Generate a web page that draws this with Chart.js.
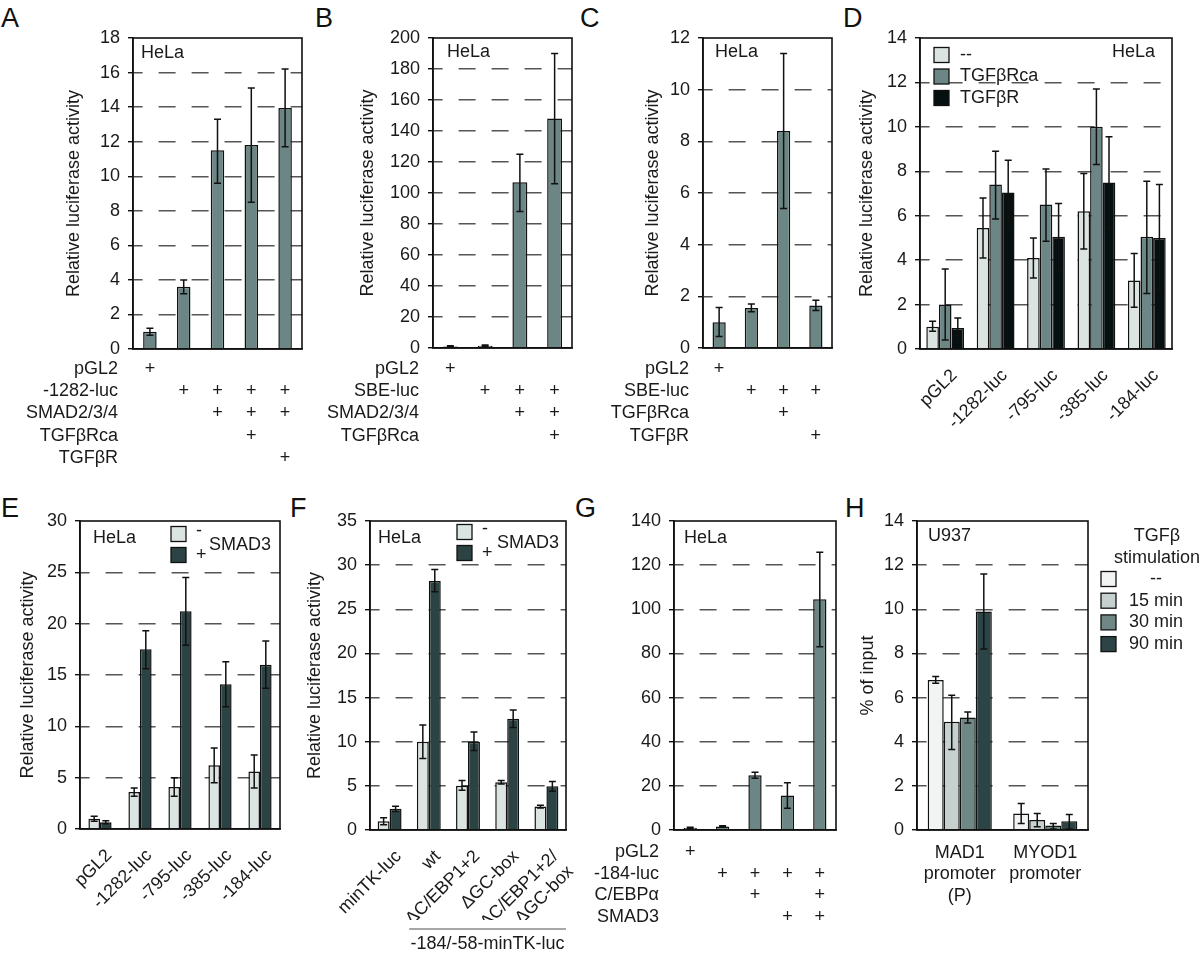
<!DOCTYPE html>
<html>
<head>
<meta charset="utf-8">
<script src="https://cdn.jsdelivr.net/npm/chart.js@4.4.0/dist/chart.umd.min.js"></script>
<style>
  body { margin: 0; background: #fff; width: 1200px; height: 955px; position: relative; overflow: hidden;
         font-family: 'Liberation Sans', Arial, sans-serif; }
  canvas { position: absolute; }
  .letter { position: absolute; font-size: 27px; color: #111; line-height: 1; }
</style>
</head>
<body>
<div class="letter" style="left:1px;top:5px">A</div>
<div class="letter" style="left:315px;top:5px">B</div>
<div class="letter" style="left:580px;top:5px">C</div>
<div class="letter" style="left:843px;top:5px">D</div>
<div class="letter" style="left:1px;top:495px">E</div>
<div class="letter" style="left:290px;top:495px">F</div>
<div class="letter" style="left:575px;top:495px">G</div>
<div class="letter" style="left:845px;top:495px">H</div>

<canvas id="chartA"></canvas>
<canvas id="chartB"></canvas>
<canvas id="chartC"></canvas>
<canvas id="chartD"></canvas>
<canvas id="chartE"></canvas>
<canvas id="chartF"></canvas>
<canvas id="chartG"></canvas>
<canvas id="chartH"></canvas>

<script>
  // ---- data ----
  const aValues = [1.0, 3.6, 11.5, 11.8, 13.95];
  const aErrLow = [0.8, 3.2, 9.6, 8.5, 11.7];
  const aErrHigh = [1.2, 4.0, 13.3, 15.1, 16.2];
  const aRowNames = ['pGL2', '-1282-luc', 'SMAD2/3/4', 'TGFβRca', 'TGFβR'];
  const aRows = [
    ['+', '', '', '', ''],
    ['', '+', '+', '+', '+'],
    ['', '', '+', '+', '+'],
    ['', '', '', '+', ''],
    ['', '', '', '', '+']
  ];

  const bValues = [1.0, 1.5, 107, 148];
  const bErrLow = [0.5, 1.0, 88, 106];
  const bErrHigh = [1.5, 2.0, 125, 190];
  const bRowNames = ['pGL2', 'SBE-luc', 'SMAD2/3/4', 'TGFβRca'];
  const bRows = [
    ['+', '', '', ''],
    ['', '+', '+', '+'],
    ['', '', '+', '+'],
    ['', '', '', '+']
  ];

  const cValues = [1.0, 1.55, 8.4, 1.65];
  const cErrLow = [0.45, 1.4, 5.4, 1.45];
  const cErrHigh = [1.57, 1.7, 11.4, 1.85];
  const cRowNames = ['pGL2', 'SBE-luc', 'TGFβRca', 'TGFβR'];
  const cRows = [
    ['+', '', '', ''],
    ['', '+', '+', '+'],
    ['', '', '+', ''],
    ['', '', '', '+']
  ];

  const promoterLabels = ['pGL2', '-1282-luc', '-795-luc', '-385-luc', '-184-luc'];

  const dNone = [1.0, 5.45, 4.1, 6.2, 3.08];
  const dNoneLow = [0.8, 4.1, 3.2, 4.5, 1.88];
  const dNoneHigh = [1.25, 6.8, 5.0, 7.9, 4.3];
  const dRca = [2.0, 7.4, 6.5, 10.0, 5.05];
  const dRcaLow = [0.4, 5.85, 4.85, 8.3, 2.5];
  const dRcaHigh = [3.6, 8.9, 8.1, 11.7, 7.55];
  const dR = [0.95, 7.05, 5.05, 7.5, 5.0];
  const dRLow = [0.6, 5.6, 3.55, 5.45, 2.6];
  const dRHigh = [1.4, 8.5, 6.55, 9.55, 7.4];

  const eMinus = [1.0, 3.6, 4.1, 6.2, 5.6];
  const eMinusLow = [0.75, 3.2, 3.2, 4.5, 4.0];
  const eMinusHigh = [1.25, 4.0, 5.0, 7.9, 7.2];
  const ePlus = [0.65, 17.5, 21.2, 14.1, 16.0];
  const ePlusLow = [0.5, 15.6, 17.9, 11.9, 13.7];
  const ePlusHigh = [0.8, 19.3, 24.5, 16.3, 18.3];

  const fLabels = ['minTK-luc', 'wt', 'ΔC/EBP1+2', 'ΔGC-box', ['ΔC/EBP1+2/', 'ΔGC-box']];
  const fMinus = [1.0, 10.0, 5.0, 5.4, 2.65];
  const fMinusLow = [0.6, 8.1, 4.5, 5.2, 2.5];
  const fMinusHigh = [1.4, 11.9, 5.6, 5.6, 2.8];
  const fPlus = [2.4, 28.2, 10.0, 12.6, 4.95];
  const fPlusLow = [2.1, 27.0, 9.0, 11.6, 4.4];
  const fPlusHigh = [2.7, 29.5, 11.1, 13.6, 5.5];

  const gValues = [1.0, 1.6, 24.8, 15.6, 104.5];
  const gErrLow = [0.7, 1.3, 23.5, 9.8, 83];
  const gErrHigh = [1.3, 1.9, 26.2, 21.4, 125.8];
  const gRowNames = ['pGL2', '-184-luc', 'C/EBPα', 'SMAD3'];
  const gRows = [
    ['+', '', '', '', ''],
    ['', '+', '+', '+', '+'],
    ['', '', '+', '', '+'],
    ['', '', '', '+', '+']
  ];

  const hLabels = [['MAD1', 'promoter', '(P)'], ['MYOD1', 'promoter']];
  const hNone = [6.8, 0.75];
  const hNoneLow = [6.65, 0.3];
  const hNoneHigh = [6.95, 1.2];
  const h15 = [4.9, 0.45];
  const h15Low = [3.65, 0.15];
  const h15High = [6.1, 0.75];
  const h30 = [5.1, 0.2];
  const h30Low = [4.85, 0.05];
  const h30High = [5.35, 0.3];
  const h90 = [9.9, 0.4];
  const h90Low = [8.2, 0.05];
  const h90High = [11.6, 0.7];

  // ---- colours ----
  const greyTeal = '#6b8684';
  const lightGrey = '#dce4e2';
  const darkTeal = '#2c4344';
  const nearBlack = '#071010';

  const fontFam = "'Liberation Sans', Arial, sans-serif";
  Chart.defaults.font.family = fontFam;
  Chart.defaults.font.size = 18;
  Chart.defaults.color = '#1a1a1a';

  // error bars from dataset.errLow / errHigh
  const errorBars = {
    id: 'errorBars',
    afterDatasetsDraw(chart) {
      const ctx = chart.ctx;
      const y = chart.scales.y;
      chart.data.datasets.forEach((ds, di) => {
        if (!ds.errLow) return;
        chart.getDatasetMeta(di).data.forEach((bar, i) => {
          const lo = y.getPixelForValue(ds.errLow[i]);
          const hi = y.getPixelForValue(ds.errHigh[i]);
          ctx.save();
          ctx.strokeStyle = '#111';
          ctx.lineWidth = 1.5;
          ctx.beginPath();
          ctx.moveTo(bar.x, lo); ctx.lineTo(bar.x, hi);
          ctx.moveTo(bar.x - 3.5, lo); ctx.lineTo(bar.x + 3.5, lo);
          ctx.moveTo(bar.x - 3.5, hi); ctx.lineTo(bar.x + 3.5, hi);
          ctx.stroke();
          ctx.restore();
        });
      });
    }
  };

  // box round the plot area
  const frameBox = {
    id: 'frameBox',
    afterDatasetsDraw(chart) {
      const {ctx, chartArea: a} = chart;
      ctx.save();
      ctx.strokeStyle = '#111';
      ctx.lineWidth = 1.6;
      ctx.strokeRect(a.left, a.top, a.right - a.left, a.bottom - a.top);
      ctx.restore();
    }
  };

  // texts, legends, +/- tables and brackets (page coordinates)
  const extras = {
    id: 'extras',
    afterDraw(chart, args, opts) {
      const f = opts.frame;
      if (!f) return;
      const ctx = chart.ctx;
      const xs = chart.scales.x;
      ctx.save();
      ctx.translate(-f.x, -f.y);
      ctx.fillStyle = '#1a1a1a';
      ctx.font = '18px ' + fontFam;
      ctx.textBaseline = 'middle';

      (opts.texts || []).forEach(t => {
        ctx.textAlign = t.align || 'left';
        ctx.fillText(t.t, t.x, t.y);
      });

      if (opts.table) {
        const tb = opts.table;
        tb.rows.forEach((row, r) => {
          const y = tb.y0 + r * tb.dy;
          ctx.textAlign = 'right';
          ctx.fillText(tb.names[r], tb.nameRight, y);
          ctx.textAlign = 'center';
          row.forEach((m, i) => {
            if (m) ctx.fillText(m, xs.getPixelForValue(i) + f.x, y);
          });
        });
      }

      if (opts.legend) {
        const lg = opts.legend;
        chart.data.datasets.forEach((ds, i) => {
          const cy = lg.y + i * lg.dy;
          ctx.fillStyle = ds.backgroundColor;
          ctx.fillRect(lg.x, cy - lg.size / 2, lg.size, lg.size);
          ctx.strokeStyle = '#111';
          ctx.lineWidth = 1.3;
          ctx.strokeRect(lg.x, cy - lg.size / 2, lg.size, lg.size);
          ctx.fillStyle = '#1a1a1a';
          ctx.textAlign = lg.align || 'left';
          ctx.fillText(ds.label, lg.textX, cy + (lg.textDy ? lg.textDy[i] : 0));
        });
      }

      if (opts.bracket) {
        const br = opts.bracket;
        const half = (xs.getPixelForValue(1) - xs.getPixelForValue(0)) / 2;
        const x1 = xs.getPixelForValue(br.from) - half + f.x;
        const x2 = xs.getPixelForValue(br.to) + half + f.x;
        ctx.strokeStyle = '#8a8a8a';
        ctx.lineWidth = 1.5;
        ctx.beginPath();
        ctx.moveTo(x1, br.y); ctx.lineTo(x2, br.y);
        ctx.stroke();
        ctx.textAlign = 'center';
        ctx.fillText(br.text, (x1 + x2) / 2, br.y + 15);
      }
      ctx.restore();
    }
  };

  function bars(label, values, low, high, color) {
    return {
      label: label,
      data: values,
      errLow: low,
      errHigh: high,
      backgroundColor: color,
      borderColor: '#111',
      borderWidth: 1.5
    };
  }

  function panelChart(id, frame, plot, cfg) {
    const canvas = document.getElementById(id);
    canvas.width = frame.w;
    canvas.height = frame.h;
    canvas.style.left = frame.x + 'px';
    canvas.style.top = frame.y + 'px';

    const padLeft = cfg.yTitle ? cfg.titleX - frame.x - 10.8 : 0;
    const xHeight = cfg.xHeight || 0;
    const max = cfg.max;

    return new Chart(canvas, {
      type: 'bar',
      data: { labels: cfg.labels, datasets: cfg.datasets },
      options: {
        responsive: false,
        animation: false,
        datasets: { bar: { barPercentage: cfg.barPct, categoryPercentage: cfg.catPct } },
        layout: {
          padding: {
            left: padLeft,
            top: plot.t - frame.y,
            right: frame.x + frame.w - plot.r,
            bottom: frame.y + frame.h - plot.b - xHeight
          }
        },
        plugins: {
          legend: { display: false },
          tooltip: { enabled: false },
          extras: Object.assign({ frame: frame }, cfg.extras)
        },
        scales: {
          x: {
            grid: { display: false },
            border: { display: true, color: '#111', width: 1.6 },
            ticks: Object.assign({ display: !!cfg.xTicks, autoSkip: false, padding: 4, color: '#1a1a1a' }, cfg.xTicks || {}),
            afterFit: s => { s.height = xHeight; }
          },
          y: {
            min: 0,
            max: max,
            ticks: { stepSize: cfg.step, padding: 8, color: '#1a1a1a' },
            grid: {
              color: c => (c.tick.value === 0 || c.tick.value === max) ? 'rgba(0,0,0,0)' : '#555',
              lineWidth: 1.4,
              tickLength: 5,
              tickColor: '#111',
              tickWidth: 1.4
            },
            border: { display: true, color: '#111', width: 1.6, dash: [17, 16], dashOffset: 8 },
            title: cfg.yTitle ? { display: true, text: cfg.yTitle, padding: 0, color: '#1a1a1a', font: { size: 18 } } : { display: false },
            afterFit: s => { s.width = plot.l - frame.x - padLeft; }
          }
        }
      },
      plugins: [errorBars, frameBox, extras]
    });
  }

  const lucTitle = 'Relative luciferase activity';

  panelChart('chartA', { x: 0, y: 0, w: 305, h: 470 }, { l: 133, t: 38, r: 302, b: 349 }, {
    labels: ['1', '2', '3', '4', '5'],
    datasets: [bars('A', aValues, aErrLow, aErrHigh, greyTeal)],
    max: 18, step: 2, yTitle: lucTitle, titleX: 74, barPct: 0.4, catPct: 1,
    extras: {
      texts: [{ t: 'HeLa', x: 141, y: 53 }],
      table: { names: aRowNames, rows: aRows, y0: 369, dy: 22.2, nameRight: 118 }
    }
  });

  panelChart('chartB', { x: 305, y: 0, w: 285, h: 470 }, { l: 433, t: 38, r: 572, b: 348 }, {
    labels: ['1', '2', '3', '4'],
    datasets: [bars('B', bValues, bErrLow, bErrHigh, greyTeal)],
    max: 200, step: 20, yTitle: lucTitle, titleX: 368, barPct: 0.43, catPct: 1,
    extras: {
      texts: [{ t: 'HeLa', x: 447, y: 52 }],
      table: { names: bRowNames, rows: bRows, y0: 369, dy: 22.2, nameRight: 419 }
    }
  });

  panelChart('chartC', { x: 590, y: 0, w: 250, h: 470 }, { l: 703, t: 38, r: 832, b: 348 }, {
    labels: ['1', '2', '3', '4'],
    datasets: [bars('C', cValues, cErrLow, cErrHigh, greyTeal)],
    max: 12, step: 2, yTitle: lucTitle, titleX: 653, barPct: 0.41, catPct: 1,
    extras: {
      texts: [{ t: 'HeLa', x: 715, y: 52 }],
      table: { names: cRowNames, rows: cRows, y0: 369, dy: 22.2, nameRight: 689 }
    }
  });

  panelChart('chartD', { x: 840, y: 0, w: 360, h: 470 }, { l: 920, t: 38, r: 1172, b: 349 }, {
    labels: promoterLabels,
    datasets: [
      bars('--', dNone, dNoneLow, dNoneHigh, lightGrey),
      bars('TGFβRca', dRca, dRcaLow, dRcaHigh, greyTeal),
      bars('TGFβR', dR, dRLow, dRHigh, nearBlack)
    ],
    max: 14, step: 2, yTitle: lucTitle, titleX: 867, barPct: 1, catPct: 0.75,
    xHeight: 110, xTicks: { minRotation: 45, maxRotation: 45, padding: 8, labelOffset: 9 },
    extras: {
      texts: [{ t: 'HeLa', x: 1112, y: 52 }],
      legend: { x: 934, y: 55, dy: 21.5, size: 15, textX: 960 }
    }
  });

  panelChart('chartE', { x: 0, y: 470, w: 290, h: 485 }, { l: 80, t: 521, r: 280, b: 829 }, {
    labels: promoterLabels,
    datasets: [
      bars('-', eMinus, eMinusLow, eMinusHigh, lightGrey),
      bars('+', ePlus, ePlusLow, ePlusHigh, darkTeal)
    ],
    max: 30, step: 5, yTitle: lucTitle, titleX: 28, barPct: 1, catPct: 0.58,
    xHeight: 110, xTicks: { minRotation: 45, maxRotation: 45, padding: 8, labelOffset: 9 },
    extras: {
      texts: [{ t: 'HeLa', x: 93, y: 538 }, { t: 'SMAD3', x: 209, y: 545 }],
      legend: { x: 171, y: 534, dy: 21, size: 15, textX: 196, textDy: [-3, 0] }
    }
  });

  panelChart('chartF', { x: 290, y: 470, w: 300, h: 485 }, { l: 370, t: 521, r: 566, b: 830 }, {
    labels: fLabels,
    datasets: [
      bars('-', fMinus, fMinusLow, fMinusHigh, lightGrey),
      bars('+', fPlus, fPlusLow, fPlusHigh, darkTeal)
    ],
    max: 35, step: 5, yTitle: lucTitle, titleX: 315, barPct: 1, catPct: 0.61,
    xHeight: 90, xTicks: { minRotation: 45, maxRotation: 45, padding: 8, labelOffset: 9 },
    extras: {
      texts: [{ t: 'HeLa', x: 378, y: 538 }, { t: 'SMAD3', x: 497, y: 543 }],
      legend: { x: 457, y: 532, dy: 21, size: 15, textX: 482, textDy: [-3, 0] },
      bracket: { from: 1, to: 4, y: 929, text: '-184/-58-minTK-luc' }
    }
  });

  panelChart('chartG', { x: 590, y: 470, w: 250, h: 485 }, { l: 674, t: 521, r: 836, b: 830 }, {
    labels: ['1', '2', '3', '4', '5'],
    datasets: [bars('G', gValues, gErrLow, gErrHigh, greyTeal)],
    max: 140, step: 20, barPct: 0.41, catPct: 1,
    extras: {
      texts: [{ t: 'HeLa', x: 684, y: 538 }],
      table: { names: gRowNames, rows: gRows, y0: 852, dy: 21.7, nameRight: 659 }
    }
  });

  panelChart('chartH', { x: 840, y: 470, w: 360, h: 485 }, { l: 917, t: 521, r: 1088, b: 830 }, {
    labels: hLabels,
    datasets: [
      bars('--', hNone, hNoneLow, hNoneHigh, '#f2f4f3'),
      bars('15 min', h15, h15Low, h15High, '#c6d1cf'),
      bars('30 min', h30, h30Low, h30High, '#6f8886'),
      bars('90 min', h90, h90Low, h90High, '#2c4445')
    ],
    max: 14, step: 2, yTitle: '% of input', titleX: 868, barPct: 1, catPct: 0.75,
    xHeight: 80, xTicks: { maxRotation: 0, minRotation: 0, padding: 4 },
    extras: {
      texts: [
        { t: 'U937', x: 928, y: 536 },
        { t: 'TGFβ', x: 1157, y: 536, align: 'center' },
        { t: 'stimulation', x: 1157, y: 558, align: 'center' }
      ],
      legend: { x: 1101, y: 579, dy: 21.7, size: 15, textX: 1156, align: 'center' }
    }
  });
</script>
</body>
</html>
